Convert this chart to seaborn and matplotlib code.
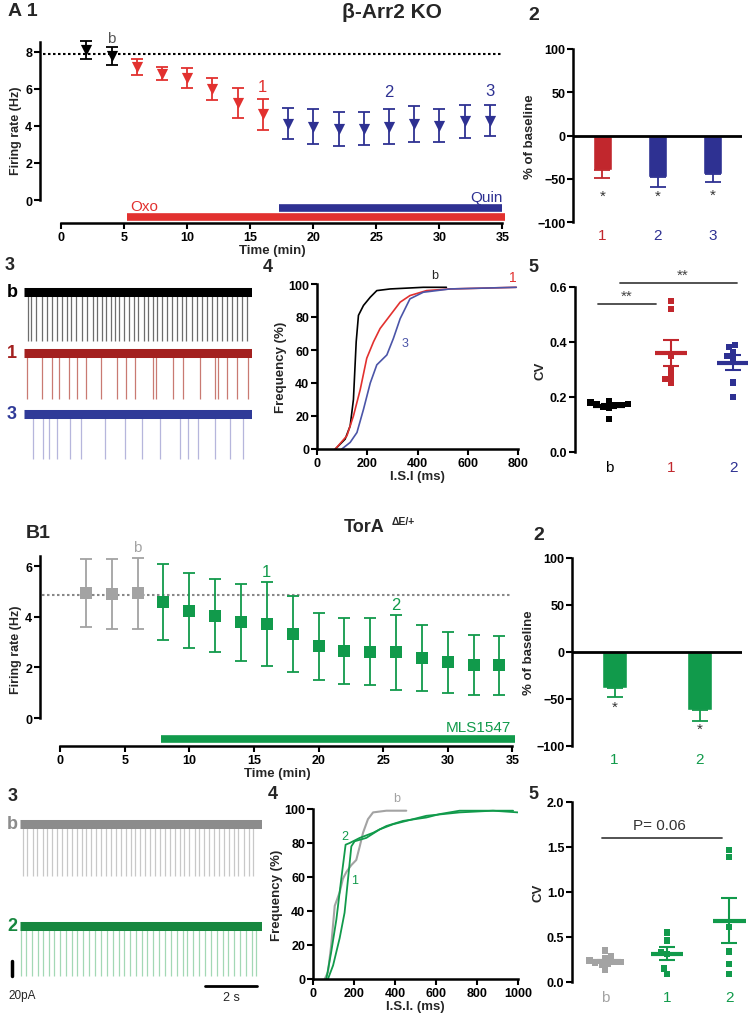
import numpy as np
import pandas as pd
import matplotlib
matplotlib.use("Agg")
import matplotlib.pyplot as plt
import seaborn as sns

sns.set_style("ticks")
plt.rcParams['font.family'] = ['Liberation Sans', 'DejaVu Sans']
plt.rcParams['font.weight'] = 'bold'
plt.rcParams['axes.labelweight'] = 'bold'

# colours
RED = '#e2312f'
DRED = '#c1272d'
BLUE = '#2e3192'
GREEN = '#119a4b'
GREY = '#a3a3a3'

# ---- A1: firing rate, beta-Arr2 KO ----
a1_t_base = [2, 4]
a1_rate_base = [8.09, 7.77]
a1_sem_base = [0.49, 0.50]
a1_t_oxo = [6, 8, 10, 12, 14, 16]
a1_rate_oxo = [7.19, 6.82, 6.58, 5.99, 5.25, 4.64]
a1_sem_oxo = [0.42, 0.36, 0.52, 0.61, 0.81, 0.84]
a1_t_quin = [18, 20, 22, 24, 26, 28, 30, 32, 34]
a1_rate_quin = [4.13, 3.96, 3.82, 3.86, 3.96, 4.09, 4.00, 4.24, 4.29]
a1_sem_quin = [0.86, 0.93, 0.93, 0.88, 0.93, 0.97, 0.89, 0.90, 0.86]
a1_baseline = 7.87
oxo_start, quin_start, drug_end = 5.2, 17.3, 35.2

# ---- A2: % of baseline ----
a2_labels = ['1', '2', '3']
a2_pct = [-39.8, -47.5, -44.4]
a2_sem = [9.6, 11.5, 9.6]

# ---- A3: spike traces (s) ----
a3_spikes_b = [0.14, 0.27, 0.46, 0.68, 0.87, 1.06, 1.28, 1.45, 1.64, 1.81, 2.0, 2.22,
               2.44, 2.64, 2.82, 2.99, 3.15, 3.33, 3.5, 3.67, 3.85, 4.05, 4.23, 4.4,
               4.62, 4.78, 4.95, 5.1, 5.29, 5.49, 5.68, 5.87, 6.06, 6.23, 6.45, 6.64,
               6.83, 7.03, 7.22, 7.41, 7.6, 7.8, 7.99, 8.18, 8.37, 8.56]
a3_spikes_1 = [0.1, 0.68, 1.06, 1.36, 1.73, 2.03, 2.38, 2.95, 3.56, 3.92, 4.27, 4.95,
               5.08, 5.74, 6.13, 6.77, 7.35, 7.47, 7.8, 8.21, 8.63]
a3_spikes_3 = [0.36, 0.72, 0.97, 1.28, 1.77, 2.18, 3.12, 3.9, 4.53, 5.23, 6.0, 6.32,
               6.71, 7.35, 7.92, 8.44]

# ---- A4: cumulative ISI ----
a4_isi_b = [73, 112, 132, 145, 156, 165, 185, 212, 238, 291, 423, 515]
a4_freq_b = [0, 6, 14, 30, 65, 81, 87, 92, 96, 97, 98, 98]
a4_isi_1 = [73, 119, 145, 172, 198, 225, 251, 291, 331, 370, 436, 529, 793]
a4_freq_1 = [0, 8, 20, 36, 55, 65, 73, 81, 89, 93, 96, 97, 98]
a4_isi_3 = [99, 132, 159, 185, 212, 238, 278, 304, 331, 370, 423, 529, 793]
a4_freq_3 = [0, 4, 10, 24, 40, 51, 57, 67, 79, 91, 95, 97, 98]

# ---- A5: CV ----
a5_cv_b = [0.185, 0.18, 0.175, 0.175, 0.17, 0.17, 0.165, 0.16, 0.12]
a5_cv_1 = [0.548, 0.52, 0.35, 0.30, 0.277, 0.265, 0.253]
a5_cv_2 = [0.39, 0.381, 0.363, 0.348, 0.338, 0.253, 0.20]

# ---- B1: firing rate, TorA dE/+ ----
b1_t_base = [2, 4, 6]
b1_rate_base = [4.93, 4.91, 4.93]
b1_sem_base = [1.35, 1.38, 1.41]
b1_t_mls = [8, 10, 12, 14, 16, 18, 20, 22, 24, 26, 28, 30, 32, 34]
b1_rate_mls = [4.58, 4.25, 4.05, 3.79, 3.72, 3.32, 2.83, 2.66, 2.63, 2.6, 2.38, 2.2, 2.1, 2.08]
b1_sem_mls = [1.5, 1.47, 1.45, 1.52, 1.67, 1.51, 1.33, 1.31, 1.33, 1.48, 1.3, 1.2, 1.19, 1.16]
b1_baseline = 4.87
mls_start = 7.8

# ---- B2 ----
b2_labels = ['1', '2']
b2_pct = [-38.4, -61.5]
b2_sem = [9.9, 11.4]

# ---- B3: spike traces (s) ----
b3_spikes_b = [0.10, 0.28, 0.49, 0.67, 0.88, 1.06, 1.25, 1.42, 1.63, 1.81, 2.0, 2.19,
               2.39, 2.55, 2.75, 2.94, 3.14, 3.33, 3.52, 3.70, 3.90, 4.09, 4.28, 4.46,
               4.66, 4.85, 5.03, 5.23, 5.42, 5.61, 5.81, 5.99, 6.17, 6.36, 6.55, 6.75,
               6.94, 7.12, 7.32, 7.51, 7.69, 7.88, 8.08, 8.26, 8.45, 8.65, 8.84, 9.03]
b3_spikes_2 = [0.03, 0.23, 0.45, 0.68, 0.88, 1.12, 1.33, 1.55, 1.78, 2.0, 2.22, 2.45,
               2.68, 2.9, 3.12, 3.35, 3.59, 3.81, 4.03, 4.26, 4.49, 4.71, 4.93, 5.16,
               5.39, 5.61, 5.83, 6.06, 6.3, 6.45, 6.71, 6.94, 7.16, 7.38, 7.61, 7.85,
               8.06, 8.28, 8.52, 8.75, 8.97, 9.14]

# ---- B4: cumulative ISI ----
b4_isi_b = [57, 73, 89, 106, 130, 146, 163, 187, 211, 228, 244, 268, 293, 358, 455]
b4_freq_b = [0, 4, 20, 43, 51, 59, 63, 67, 70, 78, 86, 94, 98, 99, 99]
b4_isi_1 = [73, 98, 130, 154, 171, 187, 203, 260, 325, 390, 455, 553, 715, 878, 1000]
b4_freq_1 = [0, 8, 24, 39, 59, 78, 81, 83, 88, 91, 93, 96, 98, 99, 98]
b4_isi_2 = [65, 89, 114, 138, 159, 179, 228, 293, 358, 439, 553, 618, 715, 976]
b4_freq_2 = [0, 16, 35, 59, 79, 80, 83, 86, 90, 93, 95, 97, 99, 99]

# ---- B5: CV ----
b5_cv_b = [0.35, 0.29, 0.26, 0.24, 0.22, 0.22, 0.21, 0.20, 0.19, 0.13]
b5_cv_1 = [0.55, 0.46, 0.33, 0.31, 0.15, 0.09]
b5_cv_2 = [1.47, 1.39, 0.61, 0.34, 0.20, 0.09]

W, H = 748, 1020
fig = plt.figure(figsize=(W / 100, H / 100), dpi=100)


def px_axes(left, top, right, bottom):
    return fig.add_axes([left / W, 1 - bottom / H, (right - left) / W, (bottom - top) / H])


def px_text(x, y, s, **kw):
    fig.text(x / W, 1 - y / H, s, **kw)


def prism(ax, lw=1.8):
    sns.despine(ax=ax)
    for sp in ['left', 'bottom']:
        ax.spines[sp].set_linewidth(lw)
        ax.spines[sp].set_color('black')
    ax.tick_params(width=1.5, length=4, labelsize=9, pad=1.5, colors='black')


def time_course(ax, groups, baseline, base_col, marker):
    for t, m, s, c in groups:
        ax.errorbar(t, m, yerr=s, fmt='none', ecolor=c, capsize=4, elinewidth=1.3, capthick=1.3)
        sns.scatterplot(x=t, y=m, marker=marker, s=65, color=c, linewidth=0, ax=ax, zorder=3)
    ax.plot([-1.4, 35], [baseline, baseline], ls=(0, (1.2, 1.2)), color=base_col, lw=1.5, zorder=1)
    ax.set_xticks(range(0, 36, 5))
    ax.set_xlabel('Time (min)', fontsize=9.5, labelpad=1)
    ax.set_ylabel('Firing rate (Hz)', fontsize=9, labelpad=2)
    ax.spines['bottom'].set_bounds(0, 35)


def pct_bars(ax, labels, vals, sems, colors, width, star_y):
    df = pd.DataFrame({'cond': labels, 'pct': vals})
    sns.barplot(data=df, x='cond', y='pct', hue='cond', palette=colors, width=width,
                saturation=1, legend=False, ax=ax)
    for i, (v, s, c) in enumerate(zip(vals, sems, colors)):
        ax.errorbar(i, v, yerr=[[s], [0]], fmt='none', ecolor=c, capsize=6, elinewidth=1.3, capthick=1.3)
        ax.text(i, star_y[i], '*', ha='center', va='center', fontsize=11, color='#333333',
                fontweight='normal')
    ax.axhline(0, color='black', lw=2)
    ax.set_ylim(-100, 100)
    ax.set_yticks([-100, -50, 0, 50, 100])
    ax.set_xlabel('')
    ax.set_ylabel('% of baseline', fontsize=9.5, labelpad=1)
    ax.spines['bottom'].set_visible(False)
    ax.tick_params(axis='x', length=0, labelsize=11, pad=4)
    for lab, c in zip(ax.get_xticklabels(), colors):
        lab.set_color(c)
        lab.set_fontweight('normal')


def traces(ax, rows, t_end, label_x):
    for spikes, offset, amp, band_col, spike_col, lab in rows:
        ax.vlines(spikes, offset - amp, offset, color=spike_col, lw=0.9)
        ax.plot([0, t_end], [offset, offset], color=band_col, lw=6.5, solid_capstyle='butt')
        ax.text(label_x, offset, lab, ha='center', va='center', color=band_col,
                fontsize=13, fontweight='bold', clip_on=False)
    ax.set_xlim(0, t_end)
    ax.axis('off')


def cv_scatter(ax, groups, colors):
    df = pd.DataFrame({'grp': [g for g, v in groups for _ in v],
                       'cv': [x for g, v in groups for x in v]})
    order = [g for g, v in groups]
    sns.swarmplot(data=df, x='grp', y='cv', hue='grp', order=order, hue_order=order,
                  palette=colors, marker='s', size=4.5, linewidth=0, legend=False, ax=ax)
    for i, ((g, v), c) in enumerate(zip(groups, colors)):
        m = np.mean(v)
        s = np.std(v, ddof=1) / np.sqrt(len(v))
        ax.plot([i - 0.26, i + 0.26], [m, m], color=c, lw=3, solid_capstyle='butt', zorder=4)
        ax.errorbar(i, m, yerr=s, fmt='none', ecolor=c, capsize=6, elinewidth=1.5, capthick=1.5, zorder=4)
    ax.set_xlabel('')
    ax.set_ylabel('CV', fontsize=9.5, labelpad=2)
    ax.spines['bottom'].set_visible(False)
    ax.tick_params(axis='x', length=0, labelsize=11, pad=6)
    for lab, c in zip(ax.get_xticklabels(), colors):
        lab.set_color(c)
        lab.set_fontweight('normal')


# ===================== A1 =====================
ax = px_axes(40, 38, 505, 224)
prism(ax)
time_course(ax, [(a1_t_base, a1_rate_base, a1_sem_base, 'black'),
                 (a1_t_oxo, a1_rate_oxo, a1_sem_oxo, RED),
                 (a1_t_quin, a1_rate_quin, a1_sem_quin, BLUE)],
            a1_baseline, 'black', 'v')
ax.plot([oxo_start, drug_end], [-0.92, -0.92], color=RED, lw=5.5, solid_capstyle='butt', clip_on=False)
ax.plot([quin_start, drug_end - 0.2], [-0.45, -0.45], color=BLUE, lw=5.5, solid_capstyle='butt', clip_on=False)
ax.text(oxo_start + 0.3, -0.7, 'Oxo', color=RED, fontsize=11, fontweight='normal', va='bottom')
ax.text(drug_end - 0.2, -0.22, 'Quin', color=BLUE, fontsize=11, fontweight='normal', va='bottom', ha='right')
ax.text(4, 8.75, 'b', color='#555555', fontsize=11, fontweight='normal', ha='center', va='center')
ax.text(16, 6.15, '1', color=RED, fontsize=12, fontweight='normal', ha='center', va='center')
ax.text(26, 5.85, '2', color=BLUE, fontsize=12, fontweight='normal', ha='center', va='center')
ax.text(34, 5.9, '3', color=BLUE, fontsize=12, fontweight='normal', ha='center', va='center')
ax.set_xlim(-1.67, 35.2)
ax.set_ylim(-1.24, 8.8)
ax.set_yticks([0, 2, 4, 6, 8])
ax.spines['left'].set_bounds(0, 8.55)

# ===================== A2 =====================
ax = px_axes(573, 50, 742, 223)
prism(ax)
pct_bars(ax, a2_labels, a2_pct, a2_sem, [DRED, BLUE, BLUE], 0.34, [-70, -70, -69])
ax.set_xlim(-0.53, 2.53)

# ===================== A3 =====================
ax = px_axes(24, 280, 252, 465)
traces(ax, [(a3_spikes_b, 0, 65, 'black', '#6e6e6e', 'b'),
            (a3_spikes_1, -81, 61, '#a3201f', '#c97a72', '1'),
            (a3_spikes_3, -162, 60, '#2f3a98', '#b6b6dc', '3')],
       8.77, -0.46)
ax.set_ylim(-229, 17)

# ===================== A4 =====================
ax = px_axes(317, 285, 518, 450)
prism(ax)
sns.lineplot(x=a4_isi_b, y=a4_freq_b, color='black', lw=1.2, ax=ax)
sns.lineplot(x=a4_isi_1, y=a4_freq_1, color=RED, lw=1.2, ax=ax)
sns.lineplot(x=a4_isi_3, y=a4_freq_3, color='#4b55a8', lw=1.2, ax=ax)
ax.text(470, 102, 'b', fontsize=9, fontweight='normal', ha='center', va='bottom')
ax.text(780, 100, '1', color=RED, fontsize=10, fontweight='normal', ha='center', va='bottom')
ax.text(337, 64, '3', color='#4b55a8', fontsize=9, fontweight='normal', ha='left', va='center')
ax.set_xlim(0, 800)
ax.set_ylim(0, 100)
ax.set_xticks(range(0, 801, 200))
ax.set_yticks(range(0, 101, 20))
ax.set_xlabel('I.S.I (ms)', fontsize=9.5, labelpad=1)
ax.set_ylabel('Frequency (%)', fontsize=9.5, labelpad=1)

# ===================== A5 =====================
ax = px_axes(575, 288, 748, 453)
prism(ax)
cv_scatter(ax, [('b', a5_cv_b), ('1', a5_cv_1), ('2', a5_cv_2)], ['black', DRED, BLUE])
ax.plot([-0.18, 0.76], [0.54, 0.54], color='#444444', lw=1.3, clip_on=False)
ax.text(0.29, 0.543, '**', ha='center', va='bottom', fontsize=11, color='#444444', fontweight='normal')
ax.plot([0.17, 2.07], [0.615, 0.615], color='#444444', lw=1.3, clip_on=False)
ax.text(1.19, 0.618, '**', ha='center', va='bottom', fontsize=11, color='#444444', fontweight='normal',
        clip_on=False)
ax.set_xlim(-0.55, 2.24)
ax.set_ylim(0, 0.6)
ax.set_yticks([0, 0.2, 0.4, 0.6])
ax.set_yticklabels(['0.0', '0.2', '0.4', '0.6'])

# ===================== B1 =====================
ax = px_axes(40, 552, 515, 747)
prism(ax)
time_course(ax, [(b1_t_base, b1_rate_base, b1_sem_base, GREY),
                 (b1_t_mls, b1_rate_mls, b1_sem_mls, GREEN)],
            b1_baseline, '#888888', 's')
ax.plot([mls_start, drug_end], [-0.83, -0.83], color=GREEN, lw=5.5, solid_capstyle='butt', clip_on=False)
ax.text(drug_end - 0.3, -0.62, 'MLS1547', color=GREEN, fontsize=11, fontweight='normal', va='bottom', ha='right')
ax.text(6, 6.75, 'b', color=GREY, fontsize=11, fontweight='normal', ha='center', va='center')
ax.text(16, 5.8, '1', color=GREEN, fontsize=12, fontweight='normal', ha='center', va='center')
ax.text(26, 4.5, '2', color=GREEN, fontsize=12, fontweight='normal', ha='center', va='center')
ax.set_xlim(-1.55, 35.2)
ax.set_ylim(-1.1, 6.6)
ax.set_yticks([0, 2, 4, 6])
ax.spines['left'].set_bounds(0, 6.42)

# ===================== B2 =====================
ax = px_axes(572, 559, 742, 747)
prism(ax)
pct_bars(ax, b2_labels, b2_pct, b2_sem, [GREEN, GREEN], 0.29, [-58, -82])
ax.set_xlim(-0.5, 1.5)

# ===================== B3 =====================
ax = px_axes(20, 815, 262, 1005)
traces(ax, [(b3_spikes_b, 0, 69, '#8c8c8c', '#c8c8c8', 'b'),
            (b3_spikes_2, -136, 67, '#17873f', '#a3d8b5', '2')],
       9.36, -0.3)
ax.set_ylim(-240, 13)
ax.plot([-0.31, -0.31], [-183, -203], color='black', lw=2.5, clip_on=False)
ax.text(-0.46, -228, '20pA', fontsize=8.5, fontweight='normal', ha='left', va='center')
ax.plot([7.16, 9.16], [-216, -216], color='black', lw=2, clip_on=False)
ax.text(8.16, -231, '2 s', fontsize=9, fontweight='normal', ha='center', va='center')

# ===================== B4 =====================
ax = px_axes(313, 810, 518, 980)
prism(ax)
sns.lineplot(x=b4_isi_b, y=b4_freq_b, color=GREY, lw=1.5, ax=ax)
sns.lineplot(x=b4_isi_1, y=b4_freq_1, color=GREEN, lw=1.3, ax=ax)
sns.lineplot(x=b4_isi_2, y=b4_freq_2, color=GREEN, lw=1.3, ax=ax)
ax.text(407, 103, 'b', color=GREY, fontsize=9, fontweight='normal', ha='center', va='bottom')
ax.text(205, 58, '1', color=GREEN, fontsize=9, fontweight='normal', ha='center', va='center')
ax.text(157, 84, '2', color=GREEN, fontsize=9, fontweight='normal', ha='center', va='center')
ax.set_xlim(0, 1000)
ax.set_ylim(0, 100)
ax.set_xticks(range(0, 1001, 200))
ax.set_yticks(range(0, 101, 20))
ax.set_xlabel('I.S.I. (ms)', fontsize=9.5, labelpad=1)
ax.set_ylabel('Frequency (%)', fontsize=9.5, labelpad=1)

# ===================== B5 =====================
ax = px_axes(572, 803, 748, 983)
prism(ax)
cv_scatter(ax, [('b', b5_cv_b), ('1', b5_cv_1), ('2', b5_cv_2)], [GREY, GREEN, GREEN])
ax.plot([-0.05, 1.88], [1.6, 1.6], color='#444444', lw=1.3)
ax.text(0.88, 1.67, 'P= 0.06', ha='center', va='bottom', fontsize=11, color='#333333', fontweight='normal')
ax.set_xlim(-0.53, 2.3)
ax.set_ylim(0, 2.0)
ax.set_yticks([0, 0.5, 1.0, 1.5, 2.0])
ax.set_yticklabels(['0.0', '0.5', '1.0', '1.5', '2.0'])

# ---- panel labels and titles ----
px_text(8, 12, 'A 1', fontsize=14, fontweight='bold', va='center')
px_text(392, 13, 'β-Arr2 KO', fontsize=15, fontweight='bold', va='center', ha='center')
px_text(528, 15, '2', fontsize=14, fontweight='bold', va='center')
px_text(5, 266, '3', fontsize=13, fontweight='bold', va='center')
px_text(263, 268, '4', fontsize=13, fontweight='bold', va='center')
px_text(528, 268, '5', fontsize=13, fontweight='bold', va='center')
px_text(26, 533, 'B1', fontsize=14, fontweight='bold', va='center')
px_text(364, 528, 'TorA', fontsize=13, fontweight='bold', va='center', ha='center')
px_text(392, 522, 'ΔE/+', fontsize=7.5, fontweight='bold', va='center', ha='left')
px_text(533, 535, '2', fontsize=14, fontweight='bold', va='center')
px_text(8, 797, '3', fontsize=13, fontweight='bold', va='center')
px_text(268, 795, '4', fontsize=13, fontweight='bold', va='center')
px_text(528, 795, '5', fontsize=13, fontweight='bold', va='center')

fig.savefig('out.png', dpi=100)
